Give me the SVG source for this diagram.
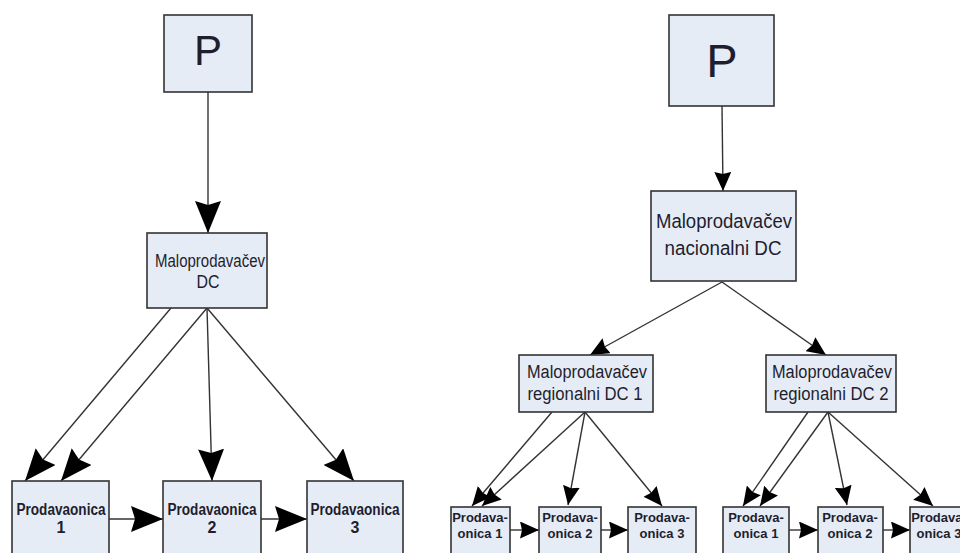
<svg xmlns="http://www.w3.org/2000/svg" width="960" height="553" viewBox="0 0 960 553">
<defs>
<style>
.box{fill:#e6ecf6;stroke:#333;stroke-width:1.6}
.t{font-family:"Liberation Sans",Arial,sans-serif;fill:#1e1e2e;text-anchor:middle}
.b{font-weight:bold}
.ln{stroke:#333;stroke-width:1.4;fill:none}
.big{marker-end:url(#ah)}
.sm{marker-end:url(#as)}
</style>
<marker id="ah" markerUnits="userSpaceOnUse" markerWidth="32" markerHeight="26" viewBox="0 0 32 26" refX="32" refY="13" orient="auto">
<path d="M0,0 L32,13 L0,26 L4,13 Z" fill="#000"/>
</marker>
<marker id="as" markerUnits="userSpaceOnUse" markerWidth="19" markerHeight="17" viewBox="0 0 19 17" refX="19" refY="8.5" orient="auto">
<path d="M0,0 L19,8.5 L0,17 L2,8.5 Z" fill="#000"/>
</marker>
</defs>
<rect width="960" height="553" fill="#fff"/>

<g id="connectors">
<line class="ln big" x1="208" y1="92" x2="208" y2="233"/>
<line class="ln big" x1="171" y1="308" x2="25" y2="481"/>
<line class="ln big" x1="207" y1="308" x2="61" y2="481"/>
<line class="ln big" x1="207" y1="308" x2="212" y2="481"/>
<line class="ln big" x1="207" y1="308" x2="354" y2="481"/>
<line class="ln big" x1="109" y1="519" x2="163" y2="519"/>
<line class="ln big" x1="261" y1="519" x2="307" y2="519"/>

<line class="ln sm" x1="722" y1="106" x2="723" y2="191"/>
<line class="ln sm" x1="722" y1="282" x2="590" y2="355"/>
<line class="ln sm" x1="722" y1="282" x2="826" y2="355"/>
<line class="ln sm" x1="552" y1="412" x2="472" y2="506"/>
<line class="ln sm" x1="585" y1="412" x2="482" y2="506"/>
<line class="ln sm" x1="585" y1="412" x2="568" y2="505"/>
<line class="ln sm" x1="585" y1="412" x2="662" y2="506"/>
<line class="ln sm" x1="510" y1="530" x2="539" y2="530"/>
<line class="ln sm" x1="601" y1="530" x2="628" y2="530"/>
<line class="ln sm" x1="808" y1="412" x2="743" y2="506"/>
<line class="ln sm" x1="828" y1="412" x2="760" y2="506"/>
<line class="ln sm" x1="828" y1="412" x2="847" y2="505"/>
<line class="ln sm" x1="828" y1="412" x2="933" y2="506"/>
<line class="ln sm" x1="789" y1="530" x2="818" y2="530"/>
<line class="ln sm" x1="883" y1="530" x2="910" y2="530"/>
</g>

<g id="P-left">
<rect class="box" x="164" y="15" width="88" height="77"/>
<text class="t" x="208" y="65" font-size="42">P</text>
</g>
<g id="DC-left">
<rect class="box" x="147" y="233" width="120" height="75"/>
<text class="t" x="210" y="267" font-size="17.5" textLength="110" lengthAdjust="spacingAndGlyphs">Maloprodavačev</text>
<text class="t" x="208" y="288" font-size="17.5" textLength="23" lengthAdjust="spacingAndGlyphs">DC</text>
</g>
<g id="Prod1-left">
<rect class="box" x="12" y="481" width="97" height="80"/>
<text class="t b" x="61" y="515" font-size="16" textLength="89" lengthAdjust="spacingAndGlyphs">Prodavaonica</text>
<text class="t b" x="61" y="533" font-size="16">1</text>
</g>
<g id="Prod2-left">
<rect class="box" x="163" y="481" width="98" height="80"/>
<text class="t b" x="212" y="515" font-size="16" textLength="89" lengthAdjust="spacingAndGlyphs">Prodavaonica</text>
<text class="t b" x="212" y="533" font-size="16">2</text>
</g>
<g id="Prod3-left">
<rect class="box" x="307" y="481" width="96" height="80"/>
<text class="t b" x="355" y="515" font-size="16" textLength="89" lengthAdjust="spacingAndGlyphs">Prodavaonica</text>
<text class="t b" x="355" y="533" font-size="16">3</text>
</g>

<g id="P-right">
<rect class="box" x="669" y="15" width="105" height="91"/>
<text class="t" x="722" y="77" font-size="47">P</text>
</g>
<g id="NDC">
<rect class="box" x="651" y="191" width="145" height="90"/>
<text class="t" x="724" y="228" font-size="20" textLength="136" lengthAdjust="spacingAndGlyphs">Maloprodavačev</text>
<text class="t" x="723" y="255" font-size="20" textLength="117" lengthAdjust="spacingAndGlyphs">nacionalni DC</text>
</g>
<g id="RDC1">
<rect class="box" x="519" y="355" width="134" height="57"/>
<text class="t" x="587" y="378" font-size="18" textLength="120" lengthAdjust="spacingAndGlyphs">Maloprodavačev</text>
<text class="t" x="585" y="400" font-size="18" textLength="115" lengthAdjust="spacingAndGlyphs">regionalni DC 1</text>
</g>
<g id="RDC2">
<rect class="box" x="766" y="355" width="130" height="57"/>
<text class="t" x="832" y="378" font-size="18" textLength="120" lengthAdjust="spacingAndGlyphs">Maloprodavačev</text>
<text class="t" x="831" y="400" font-size="18" textLength="115" lengthAdjust="spacingAndGlyphs">regionalni DC 2</text>
</g>
<g id="R1-Prod1">
<rect class="box" x="451" y="507" width="59" height="54"/>
<text class="t b" x="480" y="522" font-size="13">Prodava-</text>
<text class="t b" x="480" y="538" font-size="13">onica 1</text>
</g>
<g id="R1-Prod2">
<rect class="box" x="539" y="507" width="62" height="54"/>
<text class="t b" x="570" y="522" font-size="13">Prodava-</text>
<text class="t b" x="570" y="538" font-size="13">onica 2</text>
</g>
<g id="R1-Prod3">
<rect class="box" x="628" y="507" width="68" height="54"/>
<text class="t b" x="662" y="522" font-size="13">Prodava-</text>
<text class="t b" x="662" y="538" font-size="13">onica 3</text>
</g>
<g id="R2-Prod1">
<rect class="box" x="723" y="507" width="66" height="54"/>
<text class="t b" x="756" y="522" font-size="13">Prodava-</text>
<text class="t b" x="756" y="538" font-size="13">onica 1</text>
</g>
<g id="R2-Prod2">
<rect class="box" x="818" y="507" width="65" height="54"/>
<text class="t b" x="850" y="522" font-size="13">Prodava-</text>
<text class="t b" x="850" y="538" font-size="13">onica 2</text>
</g>
<g id="R2-Prod3">
<rect class="box" x="910" y="507" width="70" height="54"/>
<text class="t b" x="939" y="522" font-size="13">Prodava-</text>
<text class="t b" x="939" y="538" font-size="13">onica 3</text>
</g>
</svg>
